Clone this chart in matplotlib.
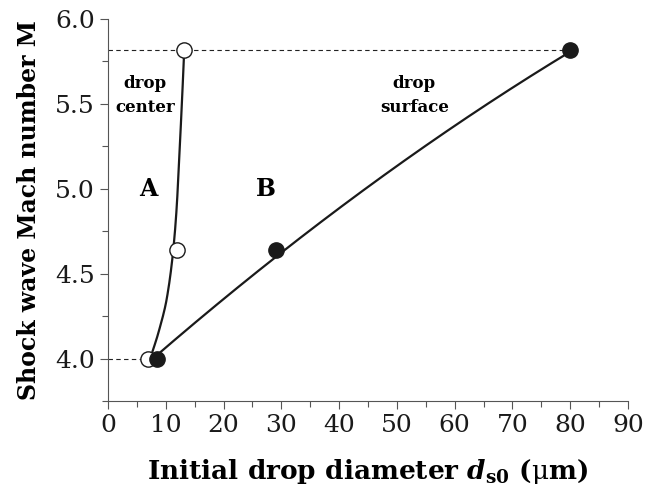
import numpy as np
import matplotlib
matplotlib.use("Agg")
import matplotlib.pyplot as plt

plt.rcParams["font.family"] = "DejaVu Serif"
plt.rcParams["mathtext.fontset"] = "dejavuserif"

# drop center (open circles, curve A)
center_d = [7.0, 12.0, 13.2]
center_M = [4.0, 4.64, 5.82]
# drop surface (filled circles, curve B)
surface_d = [8.5, 29.0, 80.0]
surface_M = [4.0, 4.64, 5.82]

# points
fitA_M = [4.00, 4.15, 4.35, 4.64, 4.89, 5.19, 5.48, 5.82]
fitA_d = [7.30, 8.71, 10.16, 11.30, 11.89, 12.34, 12.76, 13.20]
fitB_d = [7.84, 18.81, 29.2, 33.23, 50.54, 67.84, 79.39]
fitB_M = [4.01, 4.29, 4.61, 4.73, 5.14, 5.54, 5.80]


def pchip(xk, yk, xs):
    # monotone cubic Hermite (Fritsch-Carlson)
    xk = np.asarray(xk, float)
    yk = np.asarray(yk, float)
    h = np.diff(xk)
    delta = np.diff(yk) / h
    m = np.zeros_like(yk)
    m[0], m[-1] = delta[0], delta[-1]
    for i in range(1, len(xk) - 1):
        if delta[i - 1] * delta[i] > 0:
            w1 = 2 * h[i] + h[i - 1]
            w2 = h[i] + 2 * h[i - 1]
            m[i] = (w1 + w2) / (w1 / delta[i - 1] + w2 / delta[i])
    out = np.empty_like(xs)
    for j, x in enumerate(xs):
        i = min(np.searchsorted(xk, x, side="right") - 1, len(xk) - 2)
        t = (x - xk[i]) / h[i]
        out[j] = ((2 * t**3 - 3 * t**2 + 1) * yk[i] + (t**3 - 2 * t**2 + t) * h[i] * m[i]
                  + (-2 * t**3 + 3 * t**2) * yk[i + 1] + (t**3 - t**2) * h[i] * m[i + 1])
    return out


fig = plt.figure(figsize=(6.6, 5.01), dpi=100)
ax = fig.add_axes([0.1636, 0.1996, 0.7879, 0.7625])

# guide lines
ax.plot([0, surface_d[-1]], [surface_M[-1]] * 2, ls=(0, (4, 3)), lw=0.8, color="#222222")
ax.plot([0, center_d[0]], [center_M[0]] * 2, ls=(0, (4, 3)), lw=0.8, color="#222222")

# curve A: d as a smooth function of M
Ms = np.linspace(fitA_M[0], fitA_M[-1], 300)
ax.plot(pchip(fitA_M, fitA_d, Ms), Ms, color="#1a1a1a", lw=1.6)
# curve B: M as a quadratic in d
pb = np.polyfit(fitB_d, fitB_M, 2)
ds = np.linspace(surface_d[0] - 0.6, surface_d[-1], 200)
ax.plot(ds, np.polyval(pb, ds), color="#1a1a1a", lw=1.6)

ax.plot(center_d, center_M, "o", ms=11, mfc="white", mec="#1a1a1a", mew=1.0, zorder=3)
ax.plot(surface_d, surface_M, "o", ms=11, mfc="#1a1a1a", mec="#1a1a1a", zorder=4)

ax.text(6.4, 5.55, "drop\ncenter", ha="center", va="center", fontsize=12,
        fontweight="bold", linespacing=1.5)
ax.text(53, 5.55, "drop\nsurface", ha="center", va="center", fontsize=12,
        fontweight="bold", linespacing=1.5)
ax.text(6.9, 5.0, "A", ha="center", va="center", fontsize=17, fontweight="bold")
ax.text(27.3, 5.0, "B", ha="center", va="center", fontsize=17, fontweight="bold")

ax.set_xlim(0, 90)
ax.set_ylim(3.75, 6.0)
ax.set_xticks(np.arange(0, 91, 10))
ax.set_xticks(np.arange(5, 90, 10), minor=True)
ax.set_yticks([4.0, 4.5, 5.0, 5.5, 6.0])
ax.set_yticks([3.75, 4.25, 4.75, 5.25, 5.75], minor=True)
ax.set_yticklabels(["4.0", "4.5", "5.0", "5.5", "6.0"])
ax.tick_params(which="major", direction="out", length=6, width=0.8, labelsize=18, colors="#555555",
               labelcolor="#1a1a1a")
ax.tick_params(which="minor", direction="out", length=4, width=0.8, colors="#555555")
for s in ["top", "right"]:
    ax.spines[s].set_visible(False)
for s in ["left", "bottom"]:
    ax.spines[s].set_color("#555555")
    ax.spines[s].set_linewidth(0.8)

ax.set_xlabel(r"Initial drop diameter $\mathbfit{d}_{\mathbf{s0}}$ ($\mathrm{\mu}$m)",
              fontsize=19, fontweight="bold", labelpad=14)
ax.set_ylabel("Shock wave Mach number M", fontsize=17, fontweight="bold", labelpad=10)

fig.savefig("out.png", dpi=100)
